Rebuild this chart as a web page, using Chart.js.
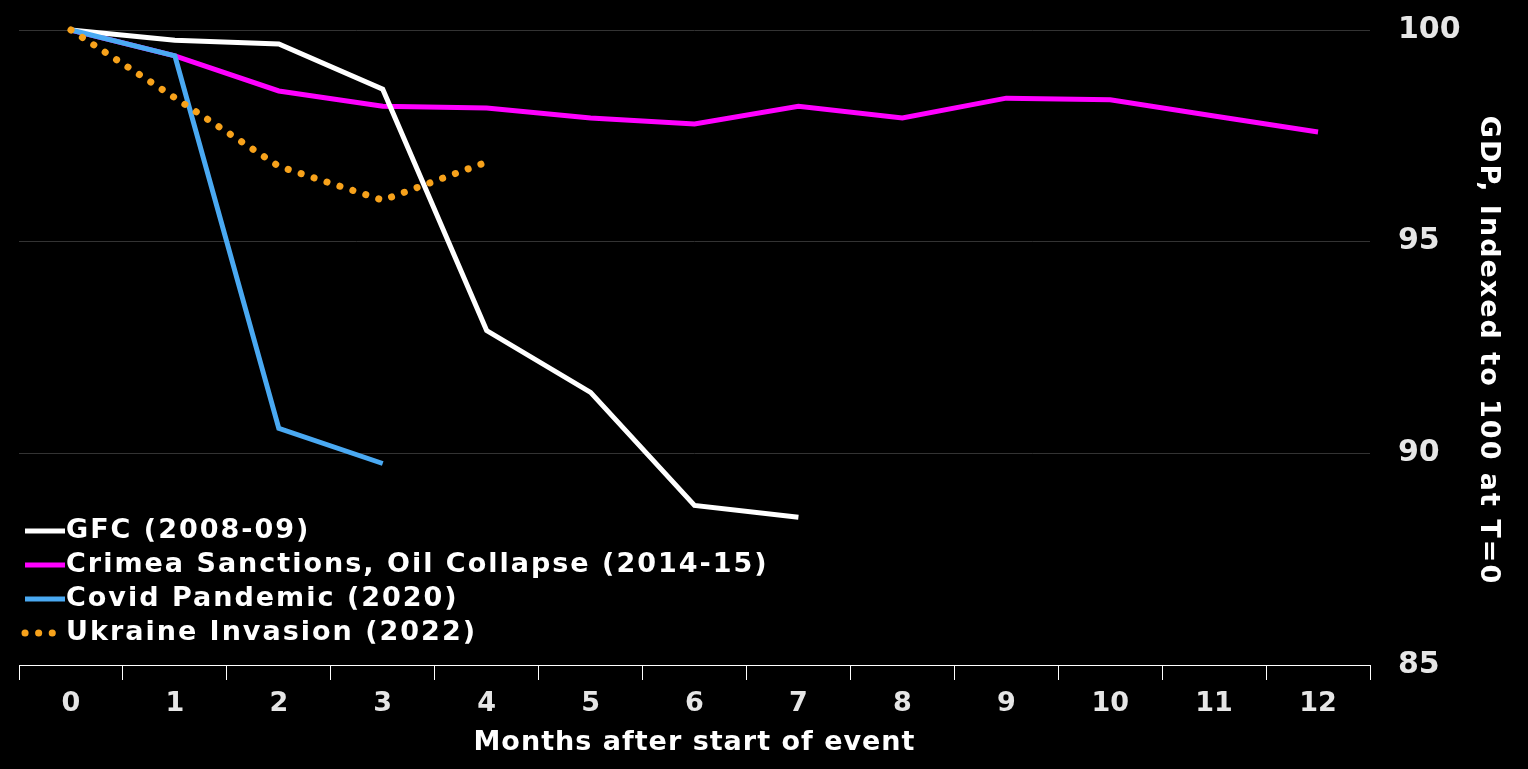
<!DOCTYPE html>
<html>
<head>
<meta charset="utf-8">
<script src="https://cdn.jsdelivr.net/npm/chart.js@4/dist/chart.umd.min.js"></script>
<style>
  html, body { margin: 0; padding: 0; background: #000; }
  #wrap { width: 1528px; height: 769px; }
</style>
</head>
<body>
<div id="wrap"><canvas id="gdpChart"></canvas></div>
<script>
const months = ['0', '1', '2', '3', '4', '5', '6', '7', '8', '9', '10', '11', '12'];
const gfc = [100, 99.76, 99.67, 98.6, 92.9, 91.44, 88.77, 88.49];
const crimea = [100, 99.39, 98.56, 98.2, 98.16, 97.92, 97.78, 98.2, 97.92, 98.39, 98.35, 97.97, 97.59];
const covid = [100, 99.39, 90.59, 89.76];
const ukraine = [100, 98.4, 96.78, 95.98, 96.88];
const yTicks = [85, 90, 95, 100];
const xTitle = 'Months after start of event';
const yTitle = 'GDP, Indexed to 100 at T=0';

const sans = '"DejaVu Sans", Verdana, sans-serif';

// legend in the lower left corner of the plot, plus the two axis titles
// (drawn by hand so they can get the wider letter spacing of the original)
const legendInside = {
  id: 'legendInside',
  afterDraw(chart) {
    const ctx = chart.ctx;
    const area = chart.chartArea;
    ctx.save();
    ctx.font = 'bold 27px ' + sans;
    ctx.textBaseline = 'middle';
    ctx.textAlign = 'left';
    ctx.letterSpacing = '2px';
    chart.data.datasets.forEach((ds, i) => {
      const y = area.bottom - 134 + i * 34;
      const x0 = area.left + 6;
      ctx.strokeStyle = ds.borderColor;
      ctx.lineWidth = ds.borderWidth;
      ctx.lineCap = ds.borderCapStyle || 'butt';
      ctx.setLineDash(ds.borderDash || []);
      ctx.beginPath();
      ctx.moveTo(x0, y);
      ctx.lineTo(x0 + 40, y);
      ctx.stroke();
      ctx.setLineDash([]);
      ctx.fillStyle = '#ffffff';
      ctx.fillText(ds.label, x0 + 41, y);
    });

    ctx.textAlign = 'center';
    ctx.letterSpacing = '1px';
    ctx.fillText(xTitle, (area.left + area.right) / 2, chart.height - 26);

    ctx.letterSpacing = '2px';
    ctx.translate(chart.width - 40, (area.top + area.bottom) / 2 + 3);
    ctx.rotate(Math.PI / 2);
    ctx.fillText(yTitle, 0, 0);
    ctx.restore();
  }
};

const ctx = document.getElementById('gdpChart').getContext('2d');
new Chart(ctx, {
  type: 'line',
  data: {
    labels: months,
    datasets: [
      { label: 'GFC (2008-09)', data: gfc, borderColor: '#ffffff', borderWidth: 5, order: 2 },
      { label: 'Crimea Sanctions, Oil Collapse (2014-15)', data: crimea, borderColor: '#ff00ff', borderWidth: 5, order: 3 },
      { label: 'Covid Pandemic (2020)', data: covid, borderColor: '#4aa9f2', borderWidth: 5, order: 1 },
      { label: 'Ukraine Invasion (2022)', data: ukraine, borderColor: '#f7a21b', borderWidth: 7,
        borderDash: [0.1, 13.5], borderCapStyle: 'round', order: 0 }
    ].map(d => Object.assign({ pointRadius: 0, fill: false, tension: 0, clip: false }, d))
  },
  options: {
    responsive: true,
    maintainAspectRatio: false,
    animation: false,
    layout: { padding: { top: 30, left: 19, right: 0, bottom: 0 } },
    plugins: { legend: { display: false }, tooltip: { enabled: false } },
    scales: {
      x: {
        offset: true,
        grid: { offset: true, drawOnChartArea: false, color: '#ffffff', tickLength: 15, lineWidth: 1 },
        border: { color: '#ffffff', width: 1 },
        ticks: { color: '#e6e6e6', font: { family: sans, size: 27, weight: 'bold' }, padding: 8, maxRotation: 0 },
        afterFit(scale) { scale.height = 104; scale.paddingLeft = 0; scale.paddingRight = 0; }
      },
      y: {
        position: 'right',
        min: 85,
        max: 100,
        afterBuildTicks(scale) { scale.ticks = yTicks.map(v => ({ value: v })); },
        grid: { color: ctx => ctx.tick && ctx.tick.value === 85 ? 'rgba(0,0,0,0)' : '#333333', drawTicks: false, lineWidth: 1 },
        border: { display: false },
        ticks: { color: '#e6e6e6', font: { family: sans, size: 30, weight: 'bold' }, padding: 28 },
        afterFit(scale) { scale.width = 158; scale.paddingTop = 0; scale.paddingBottom = 0; }
      }
    }
  },
  plugins: [legendInside]
});
</script>
</body>
</html>
